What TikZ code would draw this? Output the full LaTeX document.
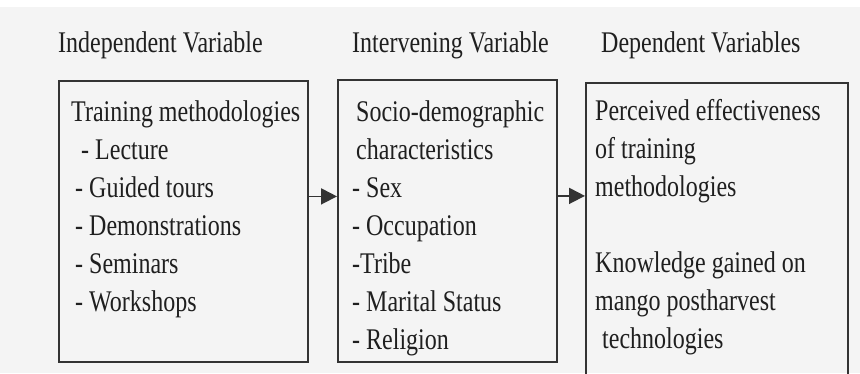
\documentclass[tikz,border=0pt]{standalone}
\usepackage{fontspec}
\setmainfont{Liberation Serif}[FakeStretch=0.8]
\usetikzlibrary{arrows.meta}
\definecolor{bg}{HTML}{F4F4F4}
\definecolor{ink}{HTML}{1F1F1F}
\definecolor{edge}{HTML}{333333}
\tikzset{
  box/.style={draw=edge, line width=1.8pt, anchor=north west, inner sep=0pt},
  txt/.style={anchor=base west, inner sep=0pt, text=ink, font=\fontsize{30}{38}\selectfont},
  arr/.style={draw=edge, line width=1.8pt, -{Triangle[length=16pt,width=16pt]}}
}
\begin{document}
\begin{tikzpicture}[x=1pt,y=-1pt]
\useasboundingbox (0,0) rectangle (860,373);
\fill[bg] (0,0) rectangle (860,373);
\fill[white] (0,0) rectangle (860,7);
\clip (0,0) rectangle (860,373);
% titles
\node[txt] (h1) at (58,52) {Independent Variable};
\node[txt] (h2) at (352,52) {Intervening Variable};
\node[txt] (h3) at (601,52) {Dependent Variables};
% boxes
\node[box, minimum width=249pt, minimum height=281pt] (b1) at (58,80) {};
\node[box, minimum width=219pt, minimum height=282pt] (b2) at (337,79) {};
\node[box, minimum width=262pt, minimum height=300pt] (b3) at (585,82) {};
% box texts
\node[txt] (t1) at (71,121.7) {\parbox[t]{240pt}{\raggedright
  Training methodologies\\
  \hspace*{10pt}- Lecture\\
  \hspace*{4pt}- Guided tours\\
  \hspace*{4pt}- Demonstrations\\
  \hspace*{4pt}- Seminars\\
  \hspace*{4pt}- Workshops}};
\node[txt] (t2) at (352,121.7) {\parbox[t]{210pt}{\raggedright
  \hspace*{4pt}Socio-demographic\\
  \hspace*{4pt}characteristics\\
  - Sex\\
  - Occupation\\
  -Tribe\\
  - Marital Status\\
  - Religion}};
\node[txt] (t3) at (595,120) {\parbox[t]{250pt}{\raggedright
  Perceived effectiveness\\
  of training\\
  methodologies\\[38pt]
  Knowledge gained on\\
  mango postharvest\\
  \hspace*{7pt}technologies}};
% arrows
\draw[arr] ([yshift=25pt]b1.east) -- ([yshift=25pt]b1.east -| b2.west);
\draw[arr] ([yshift=25pt]b2.east) -- ([yshift=25pt]b2.east -| b3.west);
\end{tikzpicture}
\end{document}
